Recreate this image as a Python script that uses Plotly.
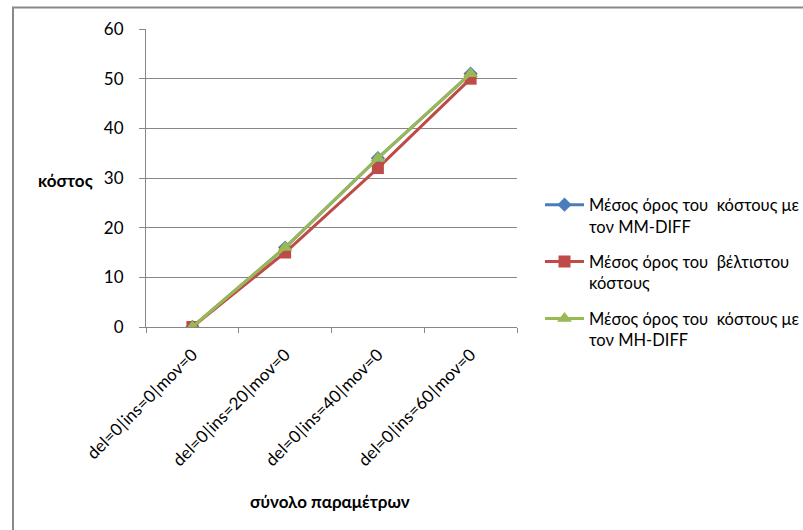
import plotly.graph_objects as go

# Parameter sets along the x axis
categories = ["del=0\u200a|\u200ains=0\u200a|\u200amov=0",
              "del=0\u200a|\u200ains=20\u200a|\u200amov=0",
              "del=0\u200a|\u200ains=40\u200a|\u200amov=0",
              "del=0\u200a|\u200ains=60\u200a|\u200amov=0"]

# Average cost per parameter set
cost_mm_diff = [0, 16, 34, 51]
cost_optimal = [0, 15, 32, 50]
cost_mh_diff = [0, 16, 34, 51]

names = ["Μέσος όρος του  κόστους με<br>τον MM-DIFF",
         "Μέσος όρος του  βέλτιστου<br>κόστους",
         "Μέσος όρος του  κόστους με<br>τον MH-DIFF"]

FONT = "Lato, 'Open Sans', sans-serif"
FS = 17
GRID = "#868686"

fig = go.Figure()
fig.add_trace(go.Scatter(x=categories, y=cost_mm_diff, name=names[0], mode="lines+markers",
                         legendgroup="a",
                         line=dict(color="#4A7EBB", width=3),
                         marker=dict(symbol="diamond", size=11, color="#4A7EBB")))
fig.add_trace(go.Scatter(x=categories, y=cost_optimal, name=names[1], mode="lines+markers",
                         legendgroup="b",
                         line=dict(color="#BE4B48", width=3),
                         marker=dict(symbol="square", size=12, color="#BE4B48")))
fig.add_trace(go.Scatter(x=categories, y=cost_mh_diff, name=names[2], mode="lines+markers",
                         legendgroup="c",
                         line=dict(color="#98B954", width=3),
                         marker=dict(symbol="triangle-up", size=13, color="#98B954")))

fig.update_layout(
    width=803, height=530,
    margin=dict(l=146, r=286, t=29, b=203, autoexpand=False),
    paper_bgcolor="white", plot_bgcolor="white",
    font=dict(family=FONT, size=FS, color="#000000"),
    showlegend=True,
    legend=dict(x=1.062, y=0.183, xanchor="left", yanchor="middle",
                valign="top", tracegroupgap=11, itemwidth=39,
                font=dict(family=FONT, size=FS - 0.5, color="#000000"),
                bgcolor="rgba(0,0,0,0)"),
    xaxis=dict(type="category", range=[-0.5, 3.5], tickangle=-45,
               showgrid=False, showline=True, linecolor=GRID, linewidth=1,
               ticks="outside", ticklen=5, tickcolor=GRID, tickson="boundaries",
               ticklabelstandoff=10,
               tickfont=dict(family=FONT, size=FS, color="#000000")),
    yaxis=dict(range=[0, 60], dtick=10, showgrid=True, gridcolor=GRID, gridwidth=1,
               showline=True, linecolor=GRID, linewidth=1, zeroline=False,
               ticks="outside", ticklen=6, tickcolor=GRID, ticklabelstandoff=12,
               tickfont=dict(family=FONT, size=FS, color="#000000")),
    annotations=[
        dict(text="<b>κόστος</b>", xref="paper", yref="paper",
             x=(65 - 146) / 371, y=(327 - 181) / 298, xanchor="center", yanchor="middle",
             showarrow=False, font=dict(family=FONT, size=FS, color="#000000")),
        dict(text="<b>σύνολο παραμέτρων</b>", xref="paper", yref="paper",
             x=(330 - 146) / 371, y=(327 - 501) / 298, xanchor="center", yanchor="middle",
             showarrow=False, font=dict(family=FONT, size=FS, color="#000000")),
    ],
    shapes=[
        # outer chart frame
        dict(type="rect", xref="paper", yref="paper",
             x0=(13 - 146) / 371, x1=(860 - 146) / 371,
             y0=(327 - 600) / 298, y1=(327 - 7.5) / 298,
             line=dict(color="#898989", width=2), fillcolor="rgba(0,0,0,0)", layer="below"),
    ],
)

fig.write_html("out.html")
